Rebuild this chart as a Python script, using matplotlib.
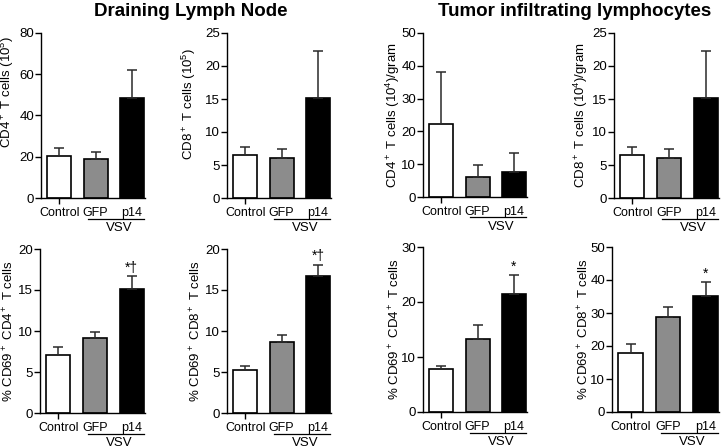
import numpy as np
import matplotlib
matplotlib.use("Agg")
import matplotlib.pyplot as plt
from matplotlib.transforms import blended_transform_factory

plt.rcParams['font.family'] = ['Liberation Sans', 'DejaVu Sans']
plt.rcParams['mathtext.default'] = 'regular'
plt.rcParams['axes.linewidth'] = 1.0

# ── DATA ──────────────────────────────────────────────────────────────────────
groups = ["Control", "GFP", "p14"]
colors = ["white", "#8c8c8c", "black"]

ylabels = [
    "CD4$^+$ T cells (10$^5$)",
    "CD8$^+$ T cells (10$^5$)",
    "CD4$^+$ T cells (10$^4$)/gram",
    "CD8$^+$ T cells (10$^4$)/gram",
    "% CD69$^+$ CD4$^+$ T cells",
    "% CD69$^+$ CD8$^+$ T cells",
    "% CD69$^+$ CD4$^+$ T cells",
    "% CD69$^+$ CD8$^+$ T cells",
]
means = [
    [20.6, 18.9, 48.6],
    [6.5, 6.0, 15.2],
    [22.2, 6.2, 7.7],
    [6.5, 6.0, 15.2],
    [7.1, 9.1, 15.1],
    [5.2, 8.6, 16.7],
    [7.9, 13.2, 21.4],
    [17.8, 28.7, 35.2],
]
upper_err = [
    [3.8, 3.4, 13.4],
    [1.2, 1.4, 7.1],
    [16.0, 3.5, 5.7],
    [1.2, 1.4, 7.1],
    [1.0, 0.8, 1.6],
    [0.5, 0.9, 1.4],
    [0.5, 2.7, 3.5],
    [2.7, 3.1, 4.1],
]
ymax = [80, 25, 50, 25, 20, 20, 30, 50]
ystep = [20, 5, 10, 5, 5, 5, 10, 10]
marks = ["", "", "", "", "*\u2020", "*\u2020", "*", "*"]

# ── LAYOUT (pixels) ──────────────────────────────────────────────────────────
# axes boxes: left, right, top, bottom
boxes = [
    (41, 145, 33, 198), (227, 331, 33, 198), (423, 527, 33, 197), (614, 719, 33, 198),
    (40, 145, 249, 413), (227, 331, 249, 413), (423, 527, 247, 412), (612, 719, 247, 412),
]
label_dx = [-25, -29, -21, -24, -24, -24, -21, -21]   # ylabel right edge, left of spine
label_y = [0.64, 0.57, 0.5, 0.5, 0.5, 0.5, 0.5, 0.5]

W, H = 726, 448
fig = plt.figure(figsize=(W / 100, H / 100), dpi=100)

for i in range(8):
    l, r, t, b = boxes[i]
    ax = fig.add_axes([l / W, 1 - b / H, (r - l) / W, (b - t) / H])
    x = np.arange(3)
    ax.bar(x, means[i], width=0.66, color=colors, edgecolor="black", linewidth=1.2, zorder=2)
    ax.errorbar(x, means[i], yerr=[np.zeros(3), upper_err[i]], fmt="none",
                ecolor="#2a2a2a", elinewidth=1.1, capsize=3.6, capthick=1.1, zorder=3)
    ax.set_xlim(-0.5, 2.36)
    ax.set_ylim(0, ymax[i])
    ax.set_yticks(np.arange(0, ymax[i] + 0.1, ystep[i]))
    ax.set_xticks(x)
    ax.set_xticklabels(groups)
    for s in ["top", "right"]:
        ax.spines[s].set_visible(False)
    ax.tick_params(axis="y", labelsize=9.5, length=4, width=1, pad=1)
    ax.tick_params(axis="x", labelsize=9, length=4, width=1, pad=2.5)
    for tk in ax.xaxis.get_major_ticks()[1:]:
        tk.tick1line.set_visible(False)
    ax.set_ylabel(ylabels[i], fontsize=9.5)
    ax.yaxis.set_label_coords(label_dx[i] / (r - l), label_y[i])

    # VSV bracket under GFP and p14
    tr = blended_transform_factory(ax.transData, ax.transAxes)
    ax.plot([0.8, 2.33], [-0.125, -0.125], color="black", lw=0.9, transform=tr, clip_on=False)
    ax.text(1.65, -0.145, "VSV", transform=tr, ha="center", va="top", fontsize=9.5)

    if marks[i]:
        ax.annotate(marks[i], (2, means[i][2] + upper_err[i][2]), xytext=(0, 1),
                    textcoords="offset points", ha="center", va="bottom", fontsize=10)

fig.text(191 / W, 1 - 12 / H, "Draining Lymph Node", ha="center", va="center",
         fontsize=13.5, fontweight="bold")
fig.text(575 / W, 1 - 12 / H, "Tumor infiltrating lymphocytes", ha="center", va="center",
         fontsize=13.5, fontweight="bold")

fig.savefig("out.png", dpi=100)
